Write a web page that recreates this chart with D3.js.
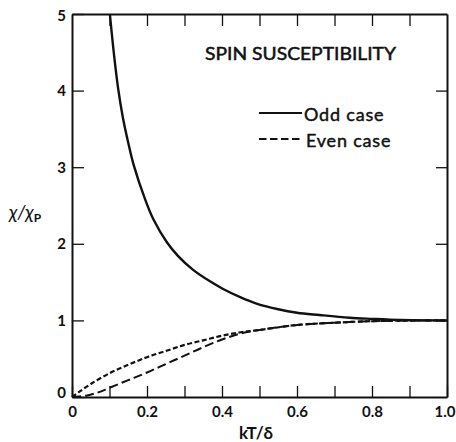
<!DOCTYPE html>
<html>
<head>
<meta charset="utf-8">
<script src="https://cdn.jsdelivr.net/npm/d3@7"></script>
<style>
  html, body { margin: 0; padding: 0; background: #fff; }
  svg { display: block; }
  text { font-family: Lato, "Liberation Sans", Arial, sans-serif; fill: #111; }
</style>
</head>
<body>
<svg id="chart" width="456" height="442"></svg>
<script>
// ---- data ----
const xTicks = [0, 0.1, 0.2, 0.3, 0.4, 0.5, 0.6, 0.7, 0.8, 0.9, 1.0];
const xTickLabels = ["0", "", "0.2", "", "0.4", "", "0.6", "", "0.8", "", "1.0"];
const yTicks = [0, 1, 2, 3, 4, 5];
const yTickLabels = ["0", "1", "2", "3", "4", "5"];

const oddX = [0.101, 0.112, 0.123, 0.136, 0.150, 0.165, 0.195, 0.217, 0.253, 0.283, 0.323, 0.368, 0.403, 0.45, 0.492, 0.55, 0.60, 0.66, 0.74, 0.80, 0.875, 0.95, 1.0];
const oddY = [5.0, 4.47, 4.03, 3.64, 3.32, 3.02, 2.58, 2.32, 2.02, 1.84, 1.66, 1.51, 1.41, 1.30, 1.22, 1.145, 1.10, 1.07, 1.035, 1.02, 1.005, 1.0, 1.0];

const evenAX = [0, 0.02, 0.05, 0.1, 0.15, 0.2, 0.25, 0.3, 0.35, 0.4, 0.45, 0.5, 0.6, 0.7, 0.8, 0.9, 1.0];
const evenAY = [0, 0.07, 0.17, 0.31, 0.42, 0.52, 0.60, 0.68, 0.74, 0.80, 0.845, 0.875, 0.94, 0.97, 0.99, 0.998, 1.0];

const evenBX = [0, 0.04, 0.07, 0.1, 0.15, 0.2, 0.25, 0.3, 0.35, 0.4, 0.45, 0.5, 0.6, 0.7, 0.8, 0.9, 1.0];
const evenBY = [0, 0.02, 0.06, 0.12, 0.22, 0.32, 0.43, 0.54, 0.65, 0.75, 0.83, 0.875, 0.94, 0.97, 0.99, 0.998, 1.0];

const legendLabels = ["Odd case", "Even case"];

// ---- layout ----
const svg = d3.select("#chart");
const x = d3.scaleLinear().domain([0, 1]).range([72, 447]);
const y = d3.scaleLinear().domain([0, 5]).range([397, 14]);

const line = d3.line().x(d => x(d[0])).y(d => y(d[1])).curve(d3.curveCatmullRom.alpha(0.5));

// curves
svg.append("path").datum(d3.zip(evenBX, evenBY)).attr("d", line)
  .attr("fill", "none").attr("stroke", "#111").attr("stroke-width", 2)
  .attr("stroke-dasharray", "9,4");
svg.append("path").datum(d3.zip(evenAX, evenAY)).attr("d", line)
  .attr("fill", "none").attr("stroke", "#111").attr("stroke-width", 2.2)
  .attr("stroke-dasharray", "5,2.5");
svg.append("path").datum(d3.zip(oddX, oddY)).attr("d", line)
  .attr("fill", "none").attr("stroke", "#111").attr("stroke-width", 2.4);

// axes
const fmtX = d => xTickLabels[xTicks.indexOf(d)] || "";
const fmtY = d => yTickLabels[yTicks.indexOf(d)] || "";

const gB = svg.append("g").attr("transform", `translate(0,${y(0)})`)
  .call(d3.axisBottom(x).tickValues(xTicks).tickSizeInner(-11).tickSizeOuter(0).tickPadding(9).tickFormat(fmtX));
const gT = svg.append("g").attr("transform", `translate(0,${y(5)})`)
  .call(d3.axisTop(x).tickValues(xTicks.slice(1, -1)).tickSizeInner(-12).tickSizeOuter(0).tickFormat(""));
const gL = svg.append("g").attr("transform", `translate(${x(0)},0)`)
  .call(d3.axisLeft(y).tickValues(yTicks).tickSizeInner(-12).tickSizeOuter(0).tickPadding(6).tickFormat(fmtY));
const gR = svg.append("g").attr("transform", `translate(${x(1)},0)`)
  .call(d3.axisRight(y).tickValues(yTicks.slice(1, -1)).tickSizeInner(-11).tickSizeOuter(0).tickFormat(""));

[gB, gT, gL, gR].forEach(g => {
  g.select(".domain").attr("stroke", "#111").attr("stroke-width", 2);
  g.selectAll(".tick line").attr("stroke", "#111").attr("stroke-width", 1.3);
  g.selectAll(".tick text").attr("font-family", "Lato, Liberation Sans, Arial, sans-serif")
    .attr("font-size", 15).attr("font-weight", "bold").attr("fill", "#111");
});
gB.selectAll(".tick text").filter(d => d === 1).attr("text-anchor", "end").attr("x", 8);
gL.selectAll(".tick text").filter(d => d === 0).attr("dy", "0.05em");
gL.selectAll(".tick text").filter(d => d === 5).attr("dy", "0.45em");

// axis titles
svg.append("text").attr("x", 256).attr("y", 439).attr("text-anchor", "middle")
  .attr("font-size", 17).attr("font-weight", "bold").text("kT/δ");

const yl = svg.append("text").attr("x", 9).attr("y", 219).attr("font-size", 19);
yl.append("tspan").attr("font-style", "italic").text("χ/χ");
yl.append("tspan").attr("font-size", 12).attr("font-weight", "bold").attr("dy", 3).text("P");

// title
svg.append("text").attr("x", 205).attr("y", 60).attr("font-size", 17)
  .attr("stroke", "#111").attr("stroke-width", 0.5)
  .attr("textLength", 191).attr("lengthAdjust", "spacingAndGlyphs").text("SPIN SUSCEPTIBILITY");

// legend
const leg = [
  { label: legendLabels[0], dash: null, ly: 113, ty: 121, lx: 259, tx: 304 },
  { label: legendLabels[1], dash: "7.5,3.5", ly: 139, ty: 147, lx: 259, tx: 306 }
];
leg.forEach(d => {
  svg.append("line").attr("x1", d.lx).attr("x2", 302).attr("y1", d.ly).attr("y2", d.ly)
    .attr("stroke", "#111").attr("stroke-width", 2).attr("stroke-dasharray", d.dash);
  svg.append("text").attr("x", d.tx).attr("y", d.ty).attr("font-size", 18)
    .attr("stroke", "#111").attr("stroke-width", 0.45)
    .attr("letter-spacing", 0.8).text(d.label);
});
</script>
</body>
</html>
